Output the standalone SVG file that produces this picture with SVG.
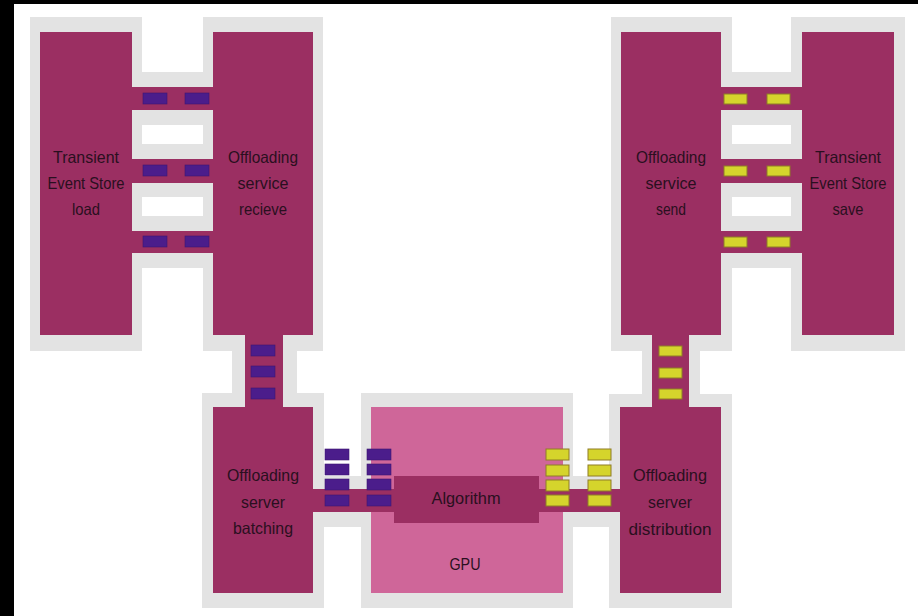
<svg xmlns="http://www.w3.org/2000/svg" width="918" height="616" viewBox="0 0 918 616">
<style>
.g{fill:#e3e3e3}
.m{fill:#9b2f62}
.p{fill:#cf6699}
.pb{fill:#4b1d8b;stroke:#3d1672;stroke-width:0.6}
.yb{fill:#d5d42c;stroke:#8f7d26;stroke-width:1}
text{font-family:"Liberation Sans",Arial,sans-serif;font-size:16.5px;fill:#2a0f20;text-anchor:middle}
</style>
<rect x="0" y="0" width="918" height="616" fill="#ffffff"/>
<rect x="0" y="0" width="14" height="616" fill="#000000"/>
<rect x="0" y="0" width="918" height="4" fill="#000000"/>

<g id="transient-load">
<rect class="g" x="30" y="17" width="112" height="334"/>
<rect class="m" x="40" y="32" width="92" height="303"/>
<text x="86" y="163" textLength="66" lengthAdjust="spacingAndGlyphs">Transient</text>
<text x="86" y="189" textLength="77" lengthAdjust="spacingAndGlyphs">Event Store</text>
<text x="86" y="215" textLength="28" lengthAdjust="spacingAndGlyphs">load</text>
</g>
<g id="offload-recieve">
<rect class="g" x="203" y="17" width="120" height="334"/>
<rect class="m" x="213" y="32" width="100" height="303"/>
<text x="263" y="163" textLength="70" lengthAdjust="spacingAndGlyphs">Offloading</text>
<text x="263" y="189" textLength="51" lengthAdjust="spacingAndGlyphs">service</text>
<text x="263" y="215" textLength="48" lengthAdjust="spacingAndGlyphs">recieve</text>
</g>
<g id="offload-send">
<rect class="g" x="611" y="17" width="121" height="334"/>
<rect class="m" x="621" y="32" width="100" height="303"/>
<text x="671" y="163" textLength="70" lengthAdjust="spacingAndGlyphs">Offloading</text>
<text x="671" y="189" textLength="51" lengthAdjust="spacingAndGlyphs">service</text>
<text x="671" y="215" textLength="30" lengthAdjust="spacingAndGlyphs">send</text>
</g>
<g id="transient-save">
<rect class="g" x="791" y="17" width="114" height="334"/>
<rect class="m" x="802" y="32" width="92" height="303"/>
<text x="848" y="163" textLength="66" lengthAdjust="spacingAndGlyphs">Transient</text>
<text x="848" y="189" textLength="77" lengthAdjust="spacingAndGlyphs">Event Store</text>
<text x="848" y="215" textLength="31" lengthAdjust="spacingAndGlyphs">save</text>
</g>
<g id="batching">
<rect class="g" x="202" y="393" width="122" height="215"/>
<rect class="m" x="213" y="407" width="100" height="186"/>
<text x="263" y="481" textLength="72" lengthAdjust="spacingAndGlyphs">Offloading</text>
<text x="263" y="508" textLength="44" lengthAdjust="spacingAndGlyphs">server</text>
<text x="263" y="534" textLength="60" lengthAdjust="spacingAndGlyphs">batching</text>
</g>
<g id="gpu">
<rect class="g" x="361" y="393" width="212" height="215"/>
<rect class="p" x="371" y="407" width="192" height="186"/>
<text x="465" y="570" textLength="31" lengthAdjust="spacingAndGlyphs">GPU</text>
</g>
<g id="distribution">
<rect class="g" x="609" y="394" width="123" height="214"/>
<rect class="m" x="620" y="407" width="101" height="186"/>
<text x="670" y="481" textLength="74" lengthAdjust="spacingAndGlyphs">Offloading</text>
<text x="670" y="508" textLength="44" lengthAdjust="spacingAndGlyphs">server</text>
<text x="670" y="535" textLength="83" lengthAdjust="spacingAndGlyphs">distribution</text>
</g>

<g id="connectors">
<rect class="g" x="142" y="72" width="61" height="53"/>
<rect class="g" x="142" y="144" width="61" height="53"/>
<rect class="g" x="142" y="216" width="61" height="52"/>
<rect class="m" x="132" y="87" width="81" height="23"/>
<rect class="m" x="132" y="159" width="81" height="24"/>
<rect class="m" x="132" y="231" width="81" height="22"/>
<rect class="pb" x="143" y="93" width="24" height="11"/>
<rect class="pb" x="185" y="93" width="24" height="11"/>
<rect class="pb" x="143" y="165" width="24" height="11"/>
<rect class="pb" x="185" y="165" width="24" height="11"/>
<rect class="pb" x="143" y="236" width="24" height="11"/>
<rect class="pb" x="185" y="236" width="24" height="11"/>
<rect class="g" x="731" y="72" width="61" height="53"/>
<rect class="g" x="731" y="144" width="61" height="53"/>
<rect class="g" x="731" y="216" width="61" height="52"/>
<rect class="m" x="721" y="87" width="81" height="23"/>
<rect class="m" x="721" y="159" width="81" height="24"/>
<rect class="m" x="721" y="231" width="81" height="22"/>
<rect class="yb" x="724" y="94" width="23" height="10"/>
<rect class="yb" x="767" y="94" width="23" height="10"/>
<rect class="yb" x="724" y="166" width="23" height="10"/>
<rect class="yb" x="767" y="166" width="23" height="10"/>
<rect class="yb" x="724" y="237" width="23" height="10"/>
<rect class="yb" x="767" y="237" width="23" height="10"/>
<rect class="g" x="232" y="345" width="65" height="55"/>
<rect class="m" x="245" y="335" width="38" height="72"/>
<rect class="pb" x="251" y="345" width="24" height="11"/>
<rect class="pb" x="251" y="366" width="24" height="11"/>
<rect class="pb" x="251" y="388" width="24" height="11"/>
<rect class="g" x="642" y="345" width="58" height="55"/>
<rect class="m" x="652" y="335" width="37" height="73"/>
<rect class="yb" x="659" y="346" width="23" height="10"/>
<rect class="yb" x="659" y="368" width="23" height="10"/>
<rect class="yb" x="659" y="389" width="23" height="10"/>
<rect class="g" x="320" y="476" width="46" height="51"/>
<rect class="m" x="313" y="489" width="81" height="23"/>
<rect class="g" x="568" y="476" width="46" height="51"/>
<rect class="m" x="539" y="489" width="81" height="23"/>
</g>

<g id="algorithm">
<rect class="m" x="394" y="476" width="145" height="47"/>
<text x="466" y="504" textLength="69" lengthAdjust="spacingAndGlyphs">Algorithm</text>
</g>

<g id="queues">
<rect class="pb" x="325" y="449" width="24" height="11"/>
<rect class="pb" x="325" y="464" width="24" height="11"/>
<rect class="pb" x="325" y="479" width="24" height="11"/>
<rect class="pb" x="325" y="495" width="24" height="11"/>
<rect class="pb" x="367" y="449" width="24" height="11"/>
<rect class="pb" x="367" y="464" width="24" height="11"/>
<rect class="pb" x="367" y="479" width="24" height="11"/>
<rect class="pb" x="367" y="495" width="24" height="11"/>
<rect class="yb" x="546" y="449" width="23" height="11"/>
<rect class="yb" x="546" y="465" width="23" height="11"/>
<rect class="yb" x="546" y="480" width="23" height="11"/>
<rect class="yb" x="546" y="495" width="23" height="11"/>
<rect class="yb" x="588" y="449" width="23" height="11"/>
<rect class="yb" x="588" y="465" width="23" height="11"/>
<rect class="yb" x="588" y="480" width="23" height="11"/>
<rect class="yb" x="588" y="495" width="23" height="11"/>
</g>
</svg>
